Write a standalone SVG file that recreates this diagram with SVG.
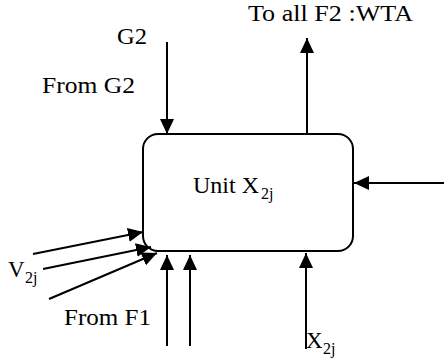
<svg xmlns="http://www.w3.org/2000/svg" width="444" height="362" viewBox="0 0 444 362">
<style>
text{font-family:'Liberation Serif','Times New Roman',serif;font-size:23px;fill:#000}
.sub{font-size:16px}
.ln{stroke:#000;stroke-width:2;fill:none}
</style>
<defs>
<marker id="ah" markerUnits="userSpaceOnUse" markerWidth="16" markerHeight="14" refX="15" refY="7" orient="auto">
<path d="M0,0 L15,7 L0,14 z" fill="#000"/>
</marker>
</defs>
<rect width="444" height="362" fill="#fff"/>
<g id="unit">
<rect x="143" y="134" width="210" height="117" rx="15" ry="15" fill="#fff" stroke="#000" stroke-width="2"/>
<text x="193" y="193" textLength="66" lengthAdjust="spacingAndGlyphs">Unit X</text>
<text class="sub" x="261" y="199">2j</text>
</g>
<g id="connectors">
<line class="ln" x1="167" y1="42" x2="167" y2="134" marker-end="url(#ah)"/>
<line class="ln" x1="307" y1="134" x2="307" y2="38" marker-end="url(#ah)"/>
<line class="ln" x1="444" y1="183" x2="354" y2="183" marker-end="url(#ah)"/>
<line class="ln" x1="306" y1="349" x2="306" y2="253" marker-end="url(#ah)"/>
<line class="ln" x1="167" y1="346" x2="167" y2="255" marker-end="url(#ah)"/>
<line class="ln" x1="190" y1="346" x2="190" y2="255" marker-end="url(#ah)"/>
<line class="ln" x1="33" y1="254" x2="143" y2="232" marker-end="url(#ah)"/>
<line class="ln" x1="43" y1="269" x2="151" y2="247" marker-end="url(#ah)"/>
<line class="ln" x1="49" y1="299" x2="157" y2="253" marker-end="url(#ah)"/>
</g>
<g id="labels">
<text x="117" y="44" textLength="30" lengthAdjust="spacingAndGlyphs">G2</text>
<text x="42" y="93" textLength="93" lengthAdjust="spacingAndGlyphs">From G2</text>
<text x="248" y="21" textLength="165" lengthAdjust="spacingAndGlyphs">To all F2 :WTA</text>
<text x="8" y="277">V</text>
<text class="sub" x="25" y="283">2j</text>
<text x="64" y="325" textLength="87" lengthAdjust="spacingAndGlyphs">From F1</text>
<text x="306" y="348">X</text>
<text class="sub" x="323" y="354">2j</text>
</g>
</svg>
